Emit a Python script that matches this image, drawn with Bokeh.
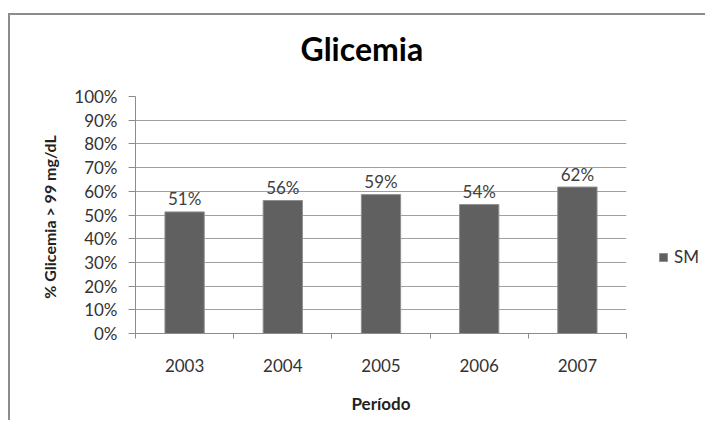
from bokeh.plotting import figure
from bokeh.models import (ColumnDataSource, FixedTicker, NumeralTickFormatter,
                          Legend, LegendItem, Range1d, Title)
from bokeh.core.properties import value
from bokeh.embed import file_html
from bokeh.resources import INLINE

years = ["2003", "2004", "2005", "2006", "2007"]
shares = [0.513, 0.561, 0.586, 0.544, 0.618]
share_labels = ["51%", "56%", "59%", "54%", "62%"]
y_ticks = [0.0, 0.1, 0.2, 0.3, 0.4, 0.5, 0.6, 0.7, 0.8, 0.9, 1.0]
series_name = "SM"
chart_title = "Glicemia"

FONT = "Lato"
centers = [i + 0.5 for i in range(len(years))]
edges = [float(i) for i in range(len(years) + 1)]

src = ColumnDataSource(dict(x=centers, top=shares, lab=share_labels))

p = figure(frame_width=491, frame_height=237,
           min_border_left=125, min_border_right=69,
           min_border_top=81, min_border_bottom=87,
           x_range=Range1d(0, len(years)), y_range=Range1d(0, 1),
           output_backend="svg", toolbar_location=None,
           background_fill_color="white", border_fill_color="white")
p.styles = {"border-left": "2px solid #8c8c8c", "border-top": "2px solid #8c8c8c",
            "margin-top": "13px", "margin-left": "8px"}
p.outline_line_color = None

# real title (outermost), with a spacer title between it and the frame
p.title.text = chart_title
p.title.align = "left"
p.title.offset = 165
p.title.text_font = FONT
p.title.text_font_size = "32px"
p.title.text_font_style = "bold"
p.title.text_color = "black"
p.title.standoff = 0
spacer = Title(text=" ", text_font_size="1px", standoff=26)
p.add_layout(spacer, "above")

bars = p.vbar(x="x", top="top", width=0.4, source=src,
              fill_color="#606060", line_color="#8f8f8f", line_width=1)

p.text(x="x", y="top", text="lab", source=src, text_align="center",
       text_baseline="alphabetic", y_offset=-13, text_font=value(FONT),
       text_font_size="17px", text_color="#404040")

# x axis
xa = p.xaxis[0]
xa.ticker = FixedTicker(ticks=centers, minor_ticks=edges)
xa.major_label_overrides = {c: y for c, y in zip(centers, years)}
xa.major_tick_out = 0
xa.major_tick_in = 0
xa.minor_tick_out = 5
xa.minor_tick_in = 0
xa.minor_tick_line_color = "#8c8c8c"
xa.axis_line_color = "#8c8c8c"
xa.major_label_standoff = 20
xa.major_label_text_font = FONT
xa.major_label_text_font_size = "17px"
xa.major_label_text_color = "#333333"
xa.axis_label = "Período"
xa.axis_label_text_font = FONT
xa.axis_label_text_font_size = "17px"
xa.axis_label_text_font_style = "bold"
xa.axis_label_text_color = "#222222"
xa.axis_label_standoff = 18

# y axis
ya = p.yaxis[0]
ya.ticker = FixedTicker(ticks=y_ticks)
ya.formatter = NumeralTickFormatter(format="0%")
ya.major_tick_out = 7
ya.major_tick_in = 0
ya.minor_tick_line_color = None
ya.major_tick_line_color = "#8c8c8c"
ya.axis_line_color = "#8c8c8c"
ya.major_label_standoff = 11
ya.major_label_text_font = FONT
ya.major_label_text_font_size = "17px"
ya.major_label_text_color = "#333333"
ya.axis_label = "%  Glicemia > 99 mg/dL"
ya.axis_label_text_font = FONT
ya.axis_label_text_font_size = "16px"
ya.axis_label_text_font_style = "bold"
ya.axis_label_text_color = "#222222"
ya.axis_label_standoff = 12

p.xgrid.grid_line_color = None
p.ygrid.ticker = FixedTicker(ticks=y_ticks)
p.ygrid.grid_line_color = "#a0a0a0"
p.ygrid.grid_line_width = 1

legend = Legend(items=[LegendItem(label=series_name, renderers=[bars])],
                location=(32, 66), glyph_width=10, glyph_height=10,
                label_text_font=FONT, label_text_font_size="17px",
                label_text_color="#333333", label_standoff=6,
                padding=0, margin=0, spacing=0,
                border_line_color=None, background_fill_alpha=0)
p.add_layout(legend, "right")

open("out.html", "w").write(file_html(p, INLINE))
